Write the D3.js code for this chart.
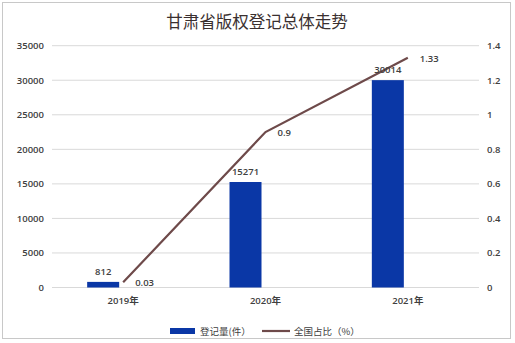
<!DOCTYPE html>
<html><head><meta charset="utf-8">
<script src="https://cdn.jsdelivr.net/npm/d3@7"></script>
<style>body{margin:0;background:#fff}svg{display:block}</style>
</head><body>
<svg id="c" width="515" height="343"></svg>
<script>
const title = "甘肃省版权登记总体走势";
const categories = ["2019年", "2020年", "2021年"];
const counts = [812, 15271, 30014];
const shares = [0.03, 0.9, 1.33];
const leftTicks = [0, 5000, 10000, 15000, 20000, 25000, 30000, 35000];
const rightTicks = [0, 0.2, 0.4, 0.6, 0.8, 1, 1.2, 1.4];
const seriesNames = ["登记量(件）", "全国占比（%）"];

const svg = d3.select("#c");
const font = "'Open Sans','Noto Sans CJK SC','DejaVu Sans',sans-serif";
const cjk = "'Noto Sans CJK SC',sans-serif";
const M = {l: 52, r: 479, t: 45.7, b: 287.5};

svg.append("rect").attr("x", 2.5).attr("y", 2.5).attr("width", 508).attr("height", 336)
  .attr("fill", "#fff").attr("stroke", "#c8c8c8").attr("stroke-width", 1);

svg.append("text").attr("x", 257).attr("y", 28).attr("text-anchor", "middle")
  .attr("font-family", cjk).attr("font-size", 16.5).attr("fill", "#3a3030").text(title);

const x = d3.scaleBand().domain(categories).range([M.l, M.r]);
const yL = d3.scaleLinear().domain([0, 35000]).range([M.b, M.t]);
const yR = d3.scaleLinear().domain([0, 1.4]).range([M.b, M.t]);
const cx = d => x(d) + x.bandwidth() / 2;

svg.append("g").selectAll("line").data(leftTicks).join("line")
  .attr("x1", M.l).attr("x2", M.r).attr("y1", d => yL(d)).attr("y2", d => yL(d))
  .attr("stroke", "#d9d9d9").attr("stroke-width", 1);

const tickFont = 9.5;
const txt = (g) => g.attr("font-family", font).attr("font-size", tickFont)
  .attr("font-weight", 600).attr("fill", "#404040");

svg.append("g").selectAll("text").data(leftTicks).join("text")
  .attr("x", 44).attr("y", d => yL(d) + 3.5).attr("text-anchor", "end")
  .call(txt).text(d => d);
svg.append("g").selectAll("text").data(rightTicks).join("text")
  .attr("x", 487).attr("y", d => yR(d) + 3.5).attr("text-anchor", "start")
  .call(txt).text(d => d3.format("~g")(d));

svg.append("g").selectAll("text").data(categories).join("text")
  .attr("x", cx).attr("y", 304).attr("text-anchor", "middle")
  .call(txt).text(d => d);

svg.append("g").selectAll("rect").data(categories).join("rect")
  .attr("x", d => cx(d) - 36)
  .attr("width", 32)
  .attr("y", (d, i) => yL(counts[i]))
  .attr("height", (d, i) => yL(0) - yL(counts[i]))
  .attr("fill", "#0a37a6");

const line = d3.line().x((d, i) => cx(categories[i])).y(d => yR(d));
svg.append("path").datum(shares).attr("d", line).attr("fill", "none")
  .attr("stroke", "#6e4a4a").attr("stroke-width", 2.2);

svg.append("g").selectAll("text").data(categories).join("text")
  .attr("x", d => cx(d) - 20)
  .attr("y", (d, i) => yL(counts[i]) - 7)
  .attr("text-anchor", "middle").call(txt).text((d, i) => counts[i]);

svg.append("g").selectAll("text").data(categories).join("text")
  .attr("x", d => cx(d) + 12)
  .attr("y", (d, i) => yR(shares[i]) + 4)
  .attr("text-anchor", "start").call(txt).text((d, i) => shares[i]);

const lg = svg.append("g");
lg.append("rect").attr("x", 170).attr("y", 328).attr("width", 25).attr("height", 6).attr("fill", "#0a37a6");
lg.append("text").attr("x", 200).attr("y", 335).call(txt).attr("font-family", cjk).attr("font-weight", 400)
  .text(seriesNames[0]);
lg.append("line").attr("x1", 262).attr("x2", 290).attr("y1", 331).attr("y2", 331)
  .attr("stroke", "#6e4a4a").attr("stroke-width", 2.2);
lg.append("text").attr("x", 294).attr("y", 335).call(txt).attr("font-family", cjk).attr("font-weight", 400)
  .text(seriesNames[1]);
</script>
</body></html>
